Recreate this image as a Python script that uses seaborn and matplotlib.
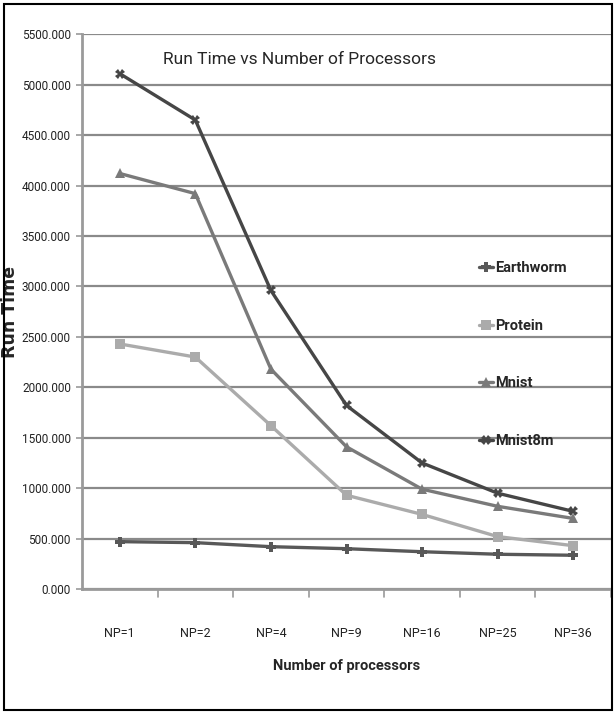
import matplotlib
matplotlib.use("Agg")
import matplotlib.pyplot as plt
import seaborn as sns
import pandas as pd

categories = ["NP=1", "NP=2", "NP=4", "NP=9", "NP=16", "NP=25", "NP=36"]
earthworm = [470, 460, 420, 400, 370, 345, 335]
protein = [2430, 2300, 1620, 930, 740, 520, 430]
mnist = [4120, 3920, 2180, 1410, 990, 820, 700]
mnist8m = [5110, 4650, 2960, 1820, 1250, 950, 770]
series_names = ["Earthworm", "Protein", "Mnist", "Mnist8m"]
yticks = [0, 500, 1000, 1500, 2000, 2500, 3000, 3500, 4000, 4500, 5000, 5500]

rows = []
for name, vals in zip(series_names, [earthworm, protein, mnist, mnist8m]):
    for c, v in zip(categories, vals):
        rows.append({"NP": c, "Run Time": v, "Series": name})
df = pd.DataFrame(rows)

sns.set_style("white")
plt.rcParams['font.family'] = ['Roboto', 'DejaVu Sans']

fig = plt.figure(figsize=(6.16, 7.14), dpi=100)
ax = fig.add_axes([0.133, 0.175, 0.859, 0.777])

palette = {"Earthworm": "#585858", "Protein": "#ababab", "Mnist": "#7a7a7a", "Mnist8m": "#464646"}
markers = {"Earthworm": "P", "Protein": "s", "Mnist": "^", "Mnist8m": "X"}
sns.lineplot(data=df, x="NP", y="Run Time", hue="Series", style="Series",
             palette=palette, markers=markers, dashes=False, linewidth=2.4,
             markersize=7, markeredgewidth=0, ax=ax, sort=False)

ax.set_xlim(-0.5, 6.5)
ax.set_ylim(0, 5500)
ax.set_yticks(yticks)
ax.set_yticklabels([f"{v:.3f}" for v in yticks], fontsize=8.5, color='#222222')
ax.set_xticks(range(len(categories)))
ax.set_xticklabels(categories, fontsize=9, color='#222222')
ax.tick_params(axis='x', length=0, pad=27)
ax.tick_params(axis='y', length=4, width=1.2, color='#9a9a9a', pad=4, left=True)
ax.grid(axis='y', color='#8a8a8a', linewidth=1.6)
ax.set_axisbelow(True)
for s in ['top', 'right']:
    ax.spines[s].set_visible(False)
for s in ['left', 'bottom']:
    ax.spines[s].set_color('#9a9a9a')
    ax.spines[s].set_linewidth(2)
for i in range(len(categories)):
    ax.plot([i + 0.5, i + 0.5], [0, -80], color='#9a9a9a', lw=1.2, clip_on=False)

ax.set_xlabel("Number of processors", fontsize=10.5, fontweight='bold', labelpad=14)
ax.set_ylabel("Run Time", fontsize=12.5, fontweight='bold', family=['DejaVu Sans'])
ax.yaxis.set_label_coords(-0.118, 0.5)
ax.text(0.412, 0.955, "Run Time vs Number of Processors", transform=ax.transAxes,
        ha='center', va='center', fontsize=12.5)

leg = ax.legend(loc='upper left', bbox_to_anchor=(0.725, 0.615), frameon=False,
                fontsize=10.5, handlelength=1.0, handletextpad=0.1, labelspacing=3.0,
                markerscale=1.0)
for t in leg.get_texts():
    t.set_fontweight('bold')

fig.patches.append(plt.Rectangle((0.006, 0.006), 0.988, 0.988, transform=fig.transFigure,
                                 fill=False, edgecolor='black', linewidth=1.5))
fig.savefig("out.png", dpi=100)
